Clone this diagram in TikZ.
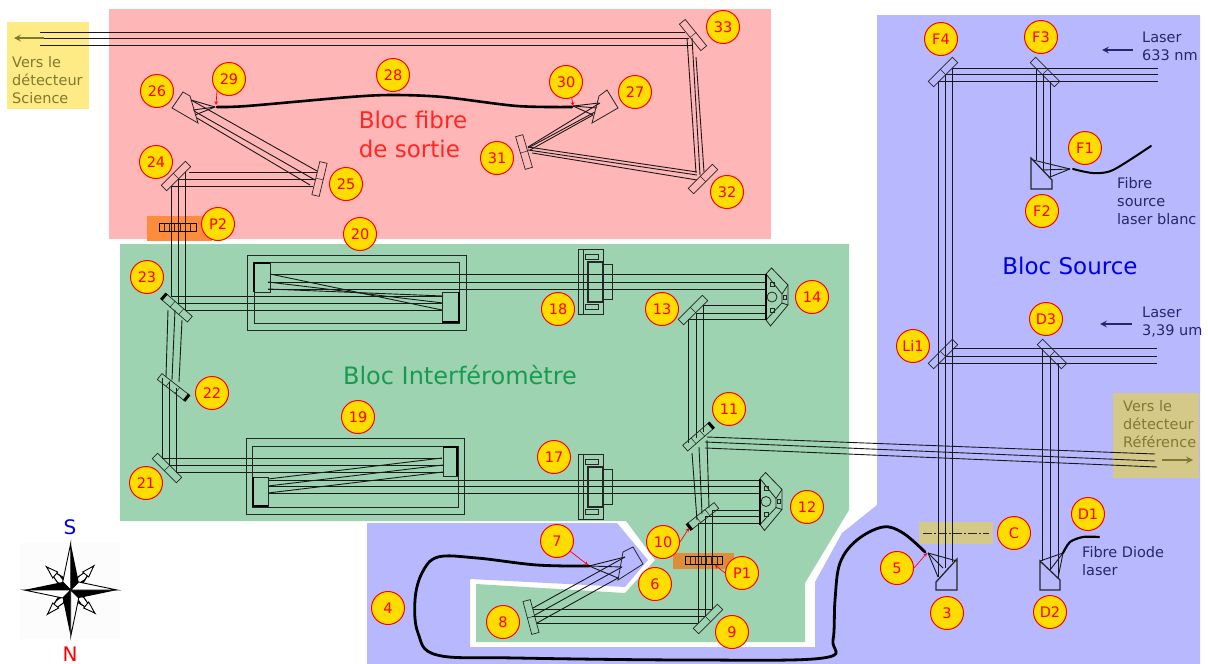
\documentclass[tikz,border=0pt]{standalone}
\usepackage{fontspec}
\setmainfont{DejaVu Sans}
\usetikzlibrary{calc}
\definecolor{pinkbloc}{HTML}{FFB6B6}
\definecolor{greenbloc}{HTML}{9DD3B0}
\definecolor{bluebloc}{HTML}{B8B8FF}
\definecolor{yellowbox}{HTML}{FEEB85}
\definecolor{tanbox}{HTML}{D5C98A}
\definecolor{orangebox}{HTML}{FF8C3C}
\definecolor{orangepone}{HTML}{DE8F36}
\definecolor{olivetext}{HTML}{7F7A30}
\definecolor{navytext}{HTML}{26266E}
\definecolor{tagyellow}{HTML}{FFDD00}
\definecolor{interfgreen}{HTML}{169C4F}
\begin{document}
\begin{tikzpicture}[
    x=1pt, y=-1pt,
    numtag/.style={draw=red, line width=1pt, fill=tagyellow, text=red, circle, minimum size=33pt, inner sep=0pt, font=\fontsize{14.5}{18}\selectfont},
    note/.style={anchor=west, align=left, inner sep=0pt, font=\fontsize{14.5}{18}\selectfont},
    bloc/.style={align=left, inner sep=0pt, font=\fontsize{23}{29}\selectfont},
    beam/.style={draw=black!90, line width=0.9pt},
    fibre/.style={draw=black, line width=2.6pt, line cap=round},
    optic/.style={draw=black!85, line width=0.8pt},
    mirrorbox/.style={draw=black!85, line width=0.7pt, rectangle, minimum width=34pt, minimum height=7.5pt, inner sep=0pt},
    plate/.style={draw=black, line width=0.8pt, rectangle, minimum width=37pt, minimum height=8pt, inner sep=0pt},
    pointer/.style={->, >=stealth, draw=red, line width=0.7pt},
    bigarrow/.style={->, >=stealth, line width=2pt},
    mount/.pic={
      \draw[optic] (0,0) rectangle (25,65);
      \draw[optic] (5,0) -- (5,65);
      \draw[optic, line width=1.1pt] (10,13) rectangle (25,53);
      \draw[optic] (25,15) rectangle (34,50);
      \draw[optic] (7,5) rectangle (20,10);
      \draw[optic] (7,55) rectangle (20,60);
    },
    catseye/.pic={
      \draw[optic] (0,-23) -- (5.5,-29) -- (22,-12) -- (22,8) -- (4.5,29) -- (0,23);
      \draw[optic] (0,-23) -- (16,-3) -- (16,6) -- (0,23);
      \draw[optic] (16,-3) -- (22,-12);
      \draw[optic] (16,6) -- (22,8);
      \draw[black, line width=1.8pt] (0,-23) -- (0,23);
      \draw[optic] (6,0) circle (5);
      \draw[optic] (4,-15) rectangle (8,-11);
      \draw[optic] (4,11) rectangle (8,15);
      \draw[optic] (17,-2) rectangle (20,2);
    }
  ]
    \useasboundingbox (0,0) rectangle (1208,664);

    % Coloured blocs
    \fill[pinkbloc] (109,9) rectangle (771,239);
    \fill[bluebloc] (877,15) -- (1200,15) -- (1200,664) -- (367,664) -- (367,523) -- (617,523)
      -- (648,560) -- (625,587) -- (470,579) -- (470,647) -- (815,647) -- (815,582) -- (842,533) -- (877,505) -- cycle;
    \fill[greenbloc] (120,244) -- (849,244) -- (849,510) -- (805,583) -- (805,642) -- (476,642)
      -- (476,584) -- (625,593) -- (655,560) -- (626,521) -- (120,521) -- cycle;
    \fill[yellowbox] (7,22) rectangle (89,109);
    \fill[tanbox] (1113,393) rectangle (1199,478);
    \fill[tanbox] (919,522) rectangle (993,544);
    \fill[orangebox] (147,216) rectangle (212,241);
    \fill[orangepone] (673,553) rectangle (734,569);

    % Bloc titles
    \node[bloc, text=red!85!white] at (413,134) (titrefibre) {Bloc fibre\\de sortie};
    \node[bloc, text=blue!90!black] at (1070,266) (titresource) {Bloc Source};
    \node[bloc, text=interfgreen, font=\fontsize{24}{29}\selectfont] at (460,375) (titreinterf) {Bloc Interféromètre};

    % Notes
    \node[note, text=olivetext] at (12,80) (science) {Vers le\\détecteur\\Science};
    \node[note, text=olivetext] at (1123,424) (reference) {Vers le\\détecteur\\Référence};
    \node[note, text=navytext] at (1142,46) (laserrouge) {Laser\\633 nm};
    \node[note, text=navytext] at (1142,322) (laserir) {Laser\\3,39 um};
    \node[note, text=navytext] at (1117,201) (fibreblanc) {Fibre\\source\\laser blanc};
    \node[note, text=navytext] at (1082,561) (fibrediode) {Fibre Diode\\laser};

    % Beams, sortie
    \draw[beam] (40,32) -- (685,32);
    \draw[beam] (40,38) -- (689,38);
    \draw[beam] (40,45) -- (692,45);
    \draw[beam] (687,38) -- (696,173);
    \draw[beam] (692,38) -- (700,175);
    \draw[beam] (696,57) -- (704,172);
    \draw[beam] (528,147) -- (697,172);
    \draw[beam] (528,150) -- (697,175);
    \draw[beam] (532,153) -- (697,180);
    \draw[beam] (528,147) -- (600,103);
    \draw[beam] (528,148) -- (595,112);
    \draw[beam] (530,150) -- (593,115);
    \draw[beam] (573,106) -- (599,103);
    \draw[beam] (573,106) -- (597,108);
    \draw[beam] (573,106) -- (593,115);
    \draw[beam] (317,171) -- (191,100);
    \draw[beam] (315,180) -- (194,111);
    \draw[beam] (310,185) -- (197,118);
    \draw[beam] (215,107) -- (191,100);
    \draw[beam] (215,107) -- (193,110);
    \draw[beam] (215,107) -- (195,115);
    \draw[beam] (189,172) -- (317,172);
    \draw[beam] (178,179) -- (316,179);
    \draw[beam] (171,186) -- (313,186);
    \draw[beam] (171,186) -- (171,296);
    \draw[beam] (178,179) -- (178,303);
    \draw[beam] (185,172) -- (185,310);

    % Beams, interferometre
    \draw[beam] (168,310) -- (166,377);
    \draw[beam] (175,310) -- (172,380);
    \draw[beam] (182,320) -- (179,382);
    \draw[beam] (162,378) -- (162,458);
    \draw[beam] (169,382) -- (169,465);
    \draw[beam] (176,388) -- (176,472);
    \draw[beam] (162,458) -- (442,458);
    \draw[beam] (169,465) -- (443,465);
    \draw[beam] (176,472) -- (443,472);
    \draw[beam] (268,479) -- (442,458);
    \draw[beam] (268,486) -- (443,465);
    \draw[beam] (268,493) -- (443,472);
    \draw[beam] (268,480) -- (760,480);
    \draw[beam] (268,486) -- (760,486);
    \draw[beam] (268,493) -- (760,493);
    \draw[beam] (171,296) -- (442,296);
    \draw[beam] (178,303) -- (443,303);
    \draw[beam] (185,310) -- (442,310);
    \draw[beam] (270,274) -- (442,310);
    \draw[beam] (268,282) -- (443,303);
    \draw[beam] (268,289) -- (443,296);
    \draw[beam] (270,274) -- (766,274);
    \draw[beam] (268,282) -- (766,282);
    \draw[beam] (268,289) -- (766,289);
    \draw[beam] (703,305) -- (766,305);
    \draw[beam] (696,313) -- (766,313);
    \draw[beam] (688,319) -- (766,319);
    \draw[beam] (688,319) -- (688,443);
    \draw[beam] (696,313) -- (696,438);
    \draw[beam] (703,305) -- (703,432);
    \draw[beam] (692,453) -- (697,520);
    \draw[beam] (699,447) -- (702,514);
    \draw[beam] (707,440) -- (709,508);
    \draw[beam] (712,510) -- (760,510);
    \draw[beam] (705,516) -- (760,516);
    \draw[beam] (698,523) -- (760,523);
    \draw[beam] (698,523) -- (698,623);
    \draw[beam] (705,516) -- (705,616);
    \draw[beam] (712,510) -- (712,609);
    \draw[beam] (533,609) -- (712,609);
    \draw[beam] (532,616) -- (705,616);
    \draw[beam] (537,623) -- (698,623);
    \draw[beam] (533,608) -- (625,557);
    \draw[beam] (535,615) -- (622,567);
    \draw[beam] (537,623) -- (618,578);
    \draw[beam] (589,566) -- (625,557);
    \draw[beam] (589,566) -- (622,567);
    \draw[beam] (589,566) -- (618,578);

    % Beams, source
    \draw[beam] (707,437) -- (1155,454);
    \draw[beam] (705,442) -- (1155,461);
    \draw[beam] (705,448) -- (1157,467);
    \draw[beam] (952,68) -- (1158,68);
    \draw[beam] (945,74) -- (1158,74);
    \draw[beam] (938,81) -- (1158,81);
    \draw[beam] (938,81) -- (938,577);
    \draw[beam] (945,74) -- (945,568);
    \draw[beam] (952,68) -- (952,562);
    \draw[beam] (952,348) -- (1157,348);
    \draw[beam] (945,356) -- (1157,356);
    \draw[beam] (938,363) -- (1157,363);
    \draw[beam] (1042,348) -- (1042,561);
    \draw[beam] (1050,356) -- (1050,570);
    \draw[beam] (1058,363) -- (1058,578);
    \draw[beam] (1036,68) -- (1036,160);
    \draw[beam] (1043,74) -- (1043,170);
    \draw[beam] (1050,81) -- (1050,177);
    \draw[beam] (1070,169) -- (1033,160);
    \draw[beam] (1070,169) -- (1043,170);
    \draw[beam] (1070,169) -- (1050,177);
    \draw[beam] (928,553) -- (957,561);
    \draw[beam] (928,553) -- (943,568);
    \draw[beam] (928,553) -- (938,577);
    \draw[beam] (1063,553) -- (1040,561);
    \draw[beam] (1063,553) -- (1050,570);
    \draw[beam] (1063,553) -- (1058,578);

    % Mirrors
    \node[mirrorbox, rotate=45] at (176,176) (m24) {};
    \node[mirrorbox, rotate=76.5] at (319.5,179) (m25) {};
    \node[mirrorbox, rotate=106.5] at (524,152) (m31) {};
    \node[mirrorbox, rotate=45] at (703,179) (m32) {};
    \node[mirrorbox, rotate=-51] at (693,35) (m33) {};
    \node[mirrorbox, rotate=-45] at (167,468) (m21) {};
    \node[mirrorbox, rotate=45] at (693,310) (m13) {};
    \node[mirrorbox, rotate=45] at (708,619) (m9) {};
    \node[mirrorbox, rotate=105] at (531,617) (m8) {};
    \node[mirrorbox, rotate=45] at (943,72) (mF4) {};
    \node[mirrorbox, rotate=-45] at (1045,72) (mF3) {};
    \node[mirrorbox, rotate=45] at (943,354) (mLi1) {};
    \node[mirrorbox, rotate=-45] at (1052,354) (mD3) {};
    \foreach \m in {m24,m25,m31,m32,m33,m21,m13,m9,m8,mF4,mF3,mLi1,mD3}
      \draw[optic, line width=0.5pt] (\m.north) -- (\m.south);

    % Beam splitters, black end on one side
    \node[mirrorbox, rotate=-41] at (177,308) (m23) {};
    \node[mirrorbox, rotate=-38] at (173,387) (m22) {};
    \node[mirrorbox, rotate=41] at (698,437) (m11) {};
    \node[mirrorbox, rotate=38] at (703,516) (m10) {};
    \foreach \m in {m23,m22,m11,m10} {
      \draw[optic, line width=0.5pt] ($(\m.north west)!.33!(\m.north east)$) -- ($(\m.south west)!.33!(\m.south east)$);
      \draw[optic, line width=0.5pt] ($(\m.north west)!.66!(\m.north east)$) -- ($(\m.south west)!.66!(\m.south east)$);
    }
    \draw[black, line width=3pt] (m23.south west) -- (m23.north west);
    \draw[black, line width=3pt] (m22.south east) -- (m22.north east);
    \draw[black, line width=3pt] (m11.south east) -- (m11.north east);
    \draw[black, line width=3pt] (m10.south west) -- (m10.north west);

    % Parabolas and prisms
    \draw[optic] (172,108) -- (183,92) -- (190,96) -- (198,123) -- cycle;
    \draw[optic] (599,96) -- (607,90) -- (618,108) -- (592,123) -- cycle;
    \draw[optic] (623,552) -- (633,547) -- (643,564) -- (618,580) -- cycle;
    \draw[optic, line width=1.3pt] (957,559) -- (957,590) -- (936,590) -- (936,582) -- cycle;
    \draw[optic, line width=1.3pt] (1040,561) -- (1040,590) -- (1060,590) -- (1060,580) -- cycle;
    \draw[optic, line width=1.3pt] (1031,158) -- (1031,189) -- (1052,189) -- (1052,180) -- cycle;

    % Delay lines
    \draw[optic] (246,438) rectangle (464,514);
    \draw[optic] (252,446) rectangle (458,507);
    \draw[optic] (443,447) rectangle (457,476);
    \draw[black, line width=1.4pt] (443,447) -- (457,447) -- (457,476);
    \draw[optic] (253,477) rectangle (268,506);
    \draw[black, line width=1.4pt] (268,506) -- (253,506) -- (253,477);
    \draw[optic] (247,255) rectangle (466,330);
    \draw[optic] (254,262) rectangle (459,323);
    \draw[optic] (254,263) rectangle (270,292);
    \draw[black, line width=1.4pt] (254,292) -- (254,263) -- (270,263);
    \draw[optic] (442,292) rectangle (459,322);
    \draw[black, line width=1.4pt] (459,292) -- (459,322) -- (442,322);
    \pic at (578,249) {mount};
    \pic at (578,454) {mount};
    \pic at (766,297) {catseye};
    \pic at (760,501.5) {catseye};

    % Waveplates
    \node[plate] at (177.5,227) (platep2) {};
    \node[plate] at (704,560) (platep1) {};
    \foreach \i in {1,...,6} {
      \draw[optic, line width=0.5pt] ($(platep2.north west)+(\i*5.3,0)$) -- ($(platep2.south west)+(\i*5.3,0)$);
      \draw[optic, line width=0.5pt] ($(platep1.north west)+(\i*5.3,0)$) -- ($(platep1.south west)+(\i*5.3,0)$);
    }

    % Diaphragm
    \draw[black!85, line width=0.8pt, dash pattern=on 9pt off 2pt on 2pt off 2pt] (923,533) -- (989,533);

    % Fibres
    \draw[fibre] plot[smooth] coordinates {(217,107) (247,106) (350,97) (393,95) (443,97) (517,106) (572,107)};
    \draw[fibre, line width=2.8pt] plot[smooth, tension=0.6] coordinates {(589,566) (537,565) (477,558) (438,557) (422,573) (415,600) (418,633) (437,655) (517,658) (693,660) (823,658) (833,640) (835,600) (840,563) (857,540) (883,527) (903,533) (925,552)};
    \draw[fibre, line width=2pt] plot[smooth] coordinates {(1073,169) (1093,173) (1113,170) (1151,146)};
    \draw[fibre, line width=2.2pt] plot[smooth] coordinates {(1063,553) (1070,542) (1083,537) (1099,537)};

    % Large arrows
    \coordinate (sciencebout) at (14,38);
    \coordinate (sciencedebut) at (44,38);
    \draw[bigarrow, olivetext] (sciencedebut) -- (sciencebout);
    \coordinate (refdebut) at (1162,460);
    \coordinate (refbout) at (1193,460);
    \draw[bigarrow, olivetext] (refdebut) -- (refbout);
    \coordinate (rougedebut) at (1133,50);
    \coordinate (rougebout) at (1102,50);
    \draw[bigarrow, navytext] (rougedebut) -- (rougebout);
    \coordinate (irdebut) at (1132,324);
    \coordinate (irbout) at (1100,324);
    \draw[bigarrow, navytext] (irdebut) -- (irbout);

    % Number tags
    \node[numtag] at (723,27)  (t33) {33};
    \node[numtag] at (229,79)  (t29) {29};
    \node[numtag] at (157,91)  (t26) {26};
    \node[numtag] at (393,75)  (t28) {28};
    \node[numtag] at (566,82)  (t30) {30};
    \node[numtag] at (635,92)  (t27) {27};
    \node[numtag] at (497,158) (t31) {31};
    \node[numtag] at (346,184) (t25) {25};
    \node[numtag] at (156,162) (t24) {24};
    \node[numtag] at (727,192) (t32) {32};
    \node[numtag] at (218,224) (tP2) {P2};
    \node[numtag] at (360,234) (t20) {20};
    \node[numtag] at (147,277) (t23) {23};
    \node[numtag] at (212,393) (t22) {22};
    \node[numtag] at (146,483) (t21) {21};
    \node[numtag] at (358,417) (t19) {19};
    \node[numtag] at (554,457) (t17) {17};
    \node[numtag] at (558,309) (t18) {18};
    \node[numtag] at (662,309) (t13) {13};
    \node[numtag] at (812,297) (t14) {14};
    \node[numtag] at (729,409) (t11) {11};
    \node[numtag] at (807,507) (t12) {12};
    \node[numtag] at (663,542) (t10) {10};
    \node[numtag] at (557,541) (t7)  {7};
    \node[numtag] at (655,584) (t6)  {6};
    \node[numtag] at (742,573) (tP1) {P1};
    \node[numtag] at (503,622) (t8)  {8};
    \node[numtag] at (732,632) (t9)  {9};
    \node[numtag] at (388,608) (t4)  {4};
    \node[numtag] at (897,568) (t5)  {5};
    \node[numtag] at (947,613) (t3)  {3};
    \node[numtag] at (1014,533) (tC) {C};
    \node[numtag] at (1088,514) (tD1) {D1};
    \node[numtag] at (1050,612) (tD2) {D2};
    \node[numtag] at (1046,319) (tD3) {D3};
    \node[numtag] at (913,346)  (tLi1) {Li1};
    \node[numtag] at (941,39)   (tF4) {F4};
    \node[numtag] at (1041,37)  (tF3) {F3};
    \node[numtag] at (1085,148) (tF1) {F1};
    \node[numtag] at (1042,211) (tF2) {F2};

    % Small red pointers
    \coordinate (foyer29) at (216,105);
    \coordinate (foyer30) at (573,106);
    \coordinate (foyer7) at (588,565);
    \coordinate (foyer10) at (689,528);
    \coordinate (foyerP1) at (715,565);
    \coordinate (foyer5) at (927,553);
    \draw[pointer] (t29.south west) -- (foyer29);
    \draw[pointer] (t30.-70) -- (foyer30);
    \draw[pointer] (t7) -- (foyer7);
    \draw[pointer] (t10.east) -- (foyer10);
    \draw[pointer] (tP1.west) -- (foyerP1);
    \draw[pointer] (t5.east) -- (foyer5);

    % Compass
    \fill[black!1] (20,543) rectangle (120,639);
    \begin{scope}[shift={(70.7,590)}]
      \foreach \a in {0,90,180,270} {
        \begin{scope}[rotate=\a]
          \draw[black, line width=0.9pt, fill=white] (0,-8) -- (-24,-23) -- (-8,0) -- cycle;
          \fill[black] (-8,0) -- (-24,-23) -- (-13,-8) -- (-4,-4) -- cycle;
          \fill[black] (0,-8) -- (-24,-23) -- (-11,-14) -- (-4,-4) -- cycle;
          \draw[black, line width=0.9pt, fill=white] (-24,-23) -- (-13,-18) -- (-18,-12) -- cycle;
        \end{scope}
      }
      \foreach \a in {0,90,180,270} {
        \begin{scope}[rotate=\a]
          \fill[black] (0,0) -- (0,-46.5) -- (8,-8) -- cycle;
          \draw[black, line width=0.9pt, fill=white] (0,0) -- (0,-46.5) -- (-8,-8) -- cycle;
        \end{scope}
      }
    \end{scope}
    \node[inner sep=0pt, text=blue!90!black, font=\fontsize{20}{24}\selectfont] at (70,527) (sud) {S};
    \node[inner sep=0pt, text=red, font=\fontsize{20}{24}\selectfont] at (70,654) (nord) {N};

\end{tikzpicture}
\end{document}
